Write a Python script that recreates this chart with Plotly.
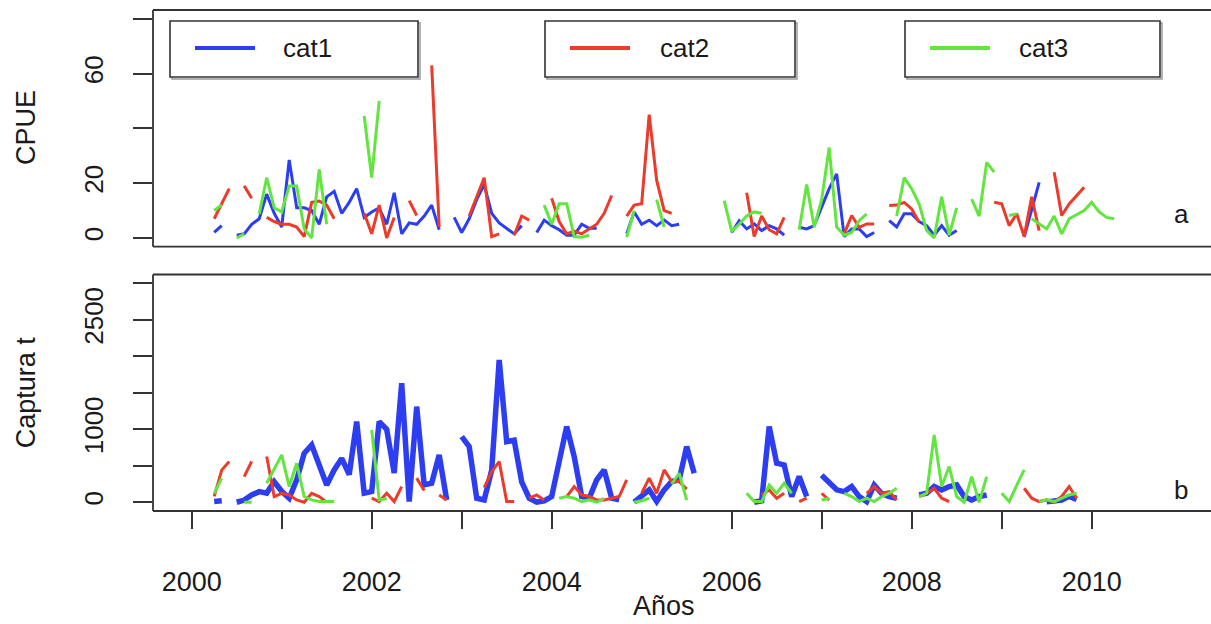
import plotly.graph_objects as go

N = None
years = list(range(2000, 2011))
time = [y + k / 12 for y in years for k in range(12)]

# ---- CPUE (panel a), one row per year ----
cpue_cat1 = [
    N, N, N, 2, 4.5, N, 1, 1.5, 5, 7, 16, 9,
    4, 28.5, 11, 11, 10, 5, 15, 17, 9, 13, 18, 7.5,
    9.5, 11, 5, 16.5, 1.5, 5.5, 5, 8, 12, 3, N, 7.5,
    2, 7, 14, 19.5, 9, 5.5, 3.5, 1.5, 4.5, N, 2, 6.5,
    4.5, 3, 1, 1, 5, 3.5, 3.5, N, N, N, 1.5, 9.5,
    5, 6.5, 4.5, 6.5, 4.5, 5, N, N, N, N, N, N,
    2, 6.3, 3.3, 5.1, 2.7, 4.5, 3.3, 1, N, 3.9, 3.3, 4.5,
    11, 18, 23.4, 0.5, 3.3, 3.3, 0.5, 2, N, 6.3, 4, 8.8,
    8.8, 6, 4.5, 1, 4.5, 1, 2.7, N, N, N, N, N,
    N, N, N, 0.3, 10, 20.3, N, N, N, N, N, N,
    N, N, N, N, N, N, N, N, N, N, N, N,
]
cpue_cat2 = [
    N, N, N, 7, 12.5, 18, N, 19, 14.5, N, 7.5, 6,
    5, 5, 4, 0.5, 13, 13.5, 12, 7, N, N, N, 9,
    1.5, 12, 0, 7.5, N, 13.6, 8.2, N, 63, 4, N, N,
    N, 8, 15, 22, 0.5, 1.5, N, 1, 8, 6.5, N, N,
    14.5, 6, 1.5, 2.5, 1.5, 3.3, 5, 9, 15.5, N, 8, 12,
    12.5, 45, 21, 10, 9, N, N, N, N, N, N, N,
    N, N, 16.5, 0.5, 8, 3, 1.5, 7.5, N, N, N, N,
    N, N, N, 1.5, 8.2, 3.9, 5.1, 5.1, N, 11.8, 12, 13,
    10.6, 5.7, N, N, N, N, N, N, N, N, N, 13,
    12.5, 4.5, 8.8, 0.5, 15, 2.7, N, 24, 8.2, 12.4, 15.5, 18.5,
    N, N, N, N, N, N, N, N, N, N, N, N,
]
cpue_cat3 = [
    N, N, N, 10, 12, N, 0, 1.5, N, 8.8, 22, 11,
    9.5, 19, 19, 3.3, 0, 25, 5, N, N, N, N, 44.5,
    22, 50, N, N, N, N, N, N, N, N, N, N,
    N, N, N, N, N, N, N, N, N, N, N, 12,
    5, 12.5, 12.5, 0.5, 0.3, 1, N, N, N, N, 0.3, 10,
    N, N, 14, 4, N, N, N, N, N, N, N, 13.6,
    2.5, 5, 8, 9.5, 9, N, N, N, N, 3, 19.5, 4,
    14, 33, 4, 1, 2, 6.3, 8.8, N, N, N, 8, 22,
    18, 12.4, 2.7, 0, 15, 1, 11, N, 14.2, 8, 27.6, 24,
    N, 8.2, 8.8, N, 7, 5, 3.3, 8, 1.5, 7, 8.5, 10,
    13, 9.5, 7.5, 7, N, N, N, N, N, N, N, N,
]

# ---- Captura t (panel b) ----
catch_cat1 = [
    N, N, N, 10, 20, N, 0, 30, 100, 145, 125, 280,
    150, 55, 306, 671, 785, 489, 237, 443, 600, 380, 1105, 123,
    146, 1105, 1000, 400, 1630, 10, 1310, 237, 260, 648, 30, N,
    900, 763, 55, 32, 440, 1950, 830, 850, 280, 55, 0, 20,
    78, 560, 1037, 626, 78, 55, 306, 443, 55, 32, N, 0,
    80, 170, 10, 170, 283, 306, 763, 397, N, N, N, N,
    N, N, N, 0, 20, 1037, 534, 511, 78, 352, 78, N,
    370, 260, 170, 146, 215, 78, 9, 237, 120, 78, 55, N,
    N, 100, 123, 215, 169, 215, 237, 78, 32, 78, 100, N,
    N, N, N, N, N, N, 5, 20, 30, 80, 40, N,
    N, N, N, N, N, N, N, N, N, N, N, N,
]
catch_cat2 = [
    N, N, N, 80, 440, 557, N, 350, 560, N, 626, 78,
    123, 100, 32, 0, 123, 78, 0, N, N, N, N, N,
    55, 9, 123, 9, 215, N, 330, 160, N, 100, 30, N,
    N, N, N, 200, 420, 557, 9, 9, N, 55, 100, 32,
    N, N, 78, 215, 100, 78, 32, 32, 55, 78, 306, N,
    123, 330, 123, 443, 283, 283, 180, N, N, N, N, N,
    N, N, N, N, 100, 169, 55, 123, N, 9, 55, N,
    120, 30, N, N, N, N, 123, 215, 123, 146, 32, N,
    N, 78, 123, 192, 55, 9, N, N, N, N, N, N,
    N, N, N, 192, 55, 9, 32, 0, 80, 215, 55, N,
    N, N, N, N, N, N, N, N, N, N, N, N,
]
catch_cat3 = [
    N, N, N, 120, 330, N, N, 0, 0, N, 260, 450,
    648, 215, 534, 78, 32, 9, 9, 9, N, N, N, N,
    990, 30, 50, N, N, N, N, N, N, N, N, N,
    N, N, N, N, N, N, N, N, N, N, N, N,
    N, 55, 78, 55, 9, 32, 0, 55, N, N, N, 0,
    20, 55, N, N, 250, 397, 30, N, N, N, N, N,
    N, N, 123, 9, 9, 237, 123, 260, 123, N, N, N,
    30, 55, N, 123, 78, 9, 55, 9, 78, 123, 192, N,
    N, 78, 123, 922, 215, 489, 78, 0, 352, 0, 352, N,
    123, 9, 230, 443, N, 9, 32, 9, 55, 100, 123, N,
    N, N, N, N, N, N, N, N, N, N, N, N,
]

categories = ["cat1", "cat2", "cat3"]
colors = {"cat1": "#2d3ef2", "cat2": "#ec3b2a", "cat3": "#62e63f"}
cpue = {"cat1": cpue_cat1, "cat2": cpue_cat2, "cat3": cpue_cat3}
catch = {"cat1": catch_cat1, "cat2": catch_cat2, "cat3": catch_cat3}
bottom_width = {"cat1": 5.5, "cat2": 3, "cat3": 3}

x_ticks = list(range(2000, 2011))
x_ticktext = [str(y) if y % 2 == 0 else "" for y in x_ticks]
cpue_ticks = [0, 20, 40, 60, 80]
cpue_ticktext = ["0", "20", "", "60", ""]
catch_ticks = [0, 500, 1000, 1500, 2000, 2500, 3000]
catch_ticktext = ["0", "", "1000", "", "", "2500", ""]

FONT = "Liberation Sans, Arial, sans-serif"
FRAME = "#333333"

fig = go.Figure()
for c in categories:
    fig.add_trace(go.Scatter(x=time, y=cpue[c], mode="lines", xaxis="x2", yaxis="y2",
                             line=dict(color=colors[c], width=3), showlegend=False,
                             connectgaps=False))
for c in categories:
    fig.add_trace(go.Scatter(x=time, y=catch[c], mode="lines", xaxis="x", yaxis="y",
                             line=dict(color=colors[c], width=bottom_width[c]), showlegend=False,
                             connectgaps=False))

TOP0, BOT1 = 0.5275, 0.4721
xr = [1999.57, 2011.326]
fig.update_layout(
    width=1211, height=624,
    margin=dict(l=153, r=0, t=10, b=113),
    paper_bgcolor="white", plot_bgcolor="white",
    font=dict(family=FONT, color="#1a1a1a"),
    xaxis=dict(domain=[0, 1], range=xr, anchor="y", tickvals=x_ticks, ticktext=x_ticktext,
               ticks="outside", ticklen=17, tickwidth=1.5, tickcolor=FRAME,
               showgrid=False, zeroline=False, showline=False,
               tickfont=dict(size=27), ticklabelstandoff=30),
    xaxis2=dict(domain=[0, 1], range=xr, anchor="y2", matches="x", showticklabels=False,
                ticks="", showgrid=False, zeroline=False, showline=False),
    yaxis=dict(domain=[0, BOT1], range=[-120, 3120], anchor="x", tickvals=catch_ticks,
               ticktext=catch_ticktext, tickangle=-90, ticks="outside", ticklen=19,
               tickwidth=1.5, tickcolor=FRAME, showgrid=False, zeroline=False, showline=False,
               tickfont=dict(size=26), ticklabelstandoff=20),
    yaxis2=dict(domain=[TOP0, 1], range=[-3.2, 83.2], anchor="x2", tickvals=cpue_ticks,
                ticktext=cpue_ticktext, tickangle=-90, ticks="outside", ticklen=19,
                tickwidth=1.5, tickcolor=FRAME, showgrid=False, zeroline=False, showline=False,
                tickfont=dict(size=26), ticklabelstandoff=20),
)

shapes = []
for (y0, y1) in [(TOP0, 1.0), (0.0, BOT1)]:
    shapes.append(dict(type="line", xref="paper", yref="paper", x0=0, x1=0, y0=y0, y1=y1,
                       line=dict(color=FRAME, width=1.8)))
    shapes.append(dict(type="line", xref="paper", yref="paper", x0=0, x1=1.0, y0=y0, y1=y0,
                       line=dict(color=FRAME, width=1.8)))
    shapes.append(dict(type="line", xref="paper", yref="paper", x0=0, x1=1.0, y0=y1, y1=y1,
                       line=dict(color=FRAME, width=1.8)))

# legend boxes (three separate boxes)
def px_x(px):
    return (px - 153) / 1058

def px_y(py):
    return (510.7 - py) / 500.7

boxes = [(170, 418), (545, 795), (905, 1160)]
line_x = [(195, 255), (570, 630), (930, 990)]
text_x = [307, 684, 1043]
for i, c in enumerate(categories):
    bx0, bx1 = boxes[i]
    shapes.append(dict(type="rect", xref="paper", yref="paper",
                       x0=px_x(bx0 + 2), x1=px_x(bx1 + 2), y0=px_y(79), y1=px_y(23),
                       line=dict(color="#9a9a9a", width=1.5), fillcolor="rgba(0,0,0,0)"))
    shapes.append(dict(type="rect", xref="paper", yref="paper",
                       x0=px_x(bx0), x1=px_x(bx1), y0=px_y(77), y1=px_y(21),
                       line=dict(color=FRAME, width=1.6), fillcolor="white"))
    lx0, lx1 = line_x[i]
    shapes.append(dict(type="line", xref="paper", yref="paper",
                       x0=px_x(lx0), x1=px_x(lx1), y0=px_y(48), y1=px_y(48),
                       line=dict(color=colors[c], width=4)))

annotations = []
for i, c in enumerate(categories):
    annotations.append(dict(text=c, xref="paper", yref="paper", x=px_x(text_x[i]), y=px_y(48),
                            xanchor="center", yanchor="middle", showarrow=False,
                            font=dict(size=26, family=FONT, color="#1a1a1a")))
annotations += [
    dict(text="CPUE", xref="paper", yref="paper", x=px_x(26), y=px_y(128), textangle=-90,
         xanchor="center", yanchor="middle", showarrow=False, font=dict(size=27, family=FONT)),
    dict(text="Captura t", xref="paper", yref="paper", x=px_x(26), y=px_y(392), textangle=-90,
         xanchor="center", yanchor="middle", showarrow=False, font=dict(size=27, family=FONT)),
    dict(text="Años", xref="paper", yref="paper", x=px_x(664), y=px_y(606),
         xanchor="center", yanchor="middle", showarrow=False, font=dict(size=27, family=FONT)),
    dict(text="a", xref="paper", yref="paper", x=px_x(1181), y=px_y(214),
         xanchor="center", yanchor="middle", showarrow=False, font=dict(size=26, family=FONT)),
    dict(text="b", xref="paper", yref="paper", x=px_x(1181), y=px_y(490),
         xanchor="center", yanchor="middle", showarrow=False, font=dict(size=26, family=FONT)),
]
fig.update_layout(shapes=shapes, annotations=annotations)

fig.write_html("out.html")
